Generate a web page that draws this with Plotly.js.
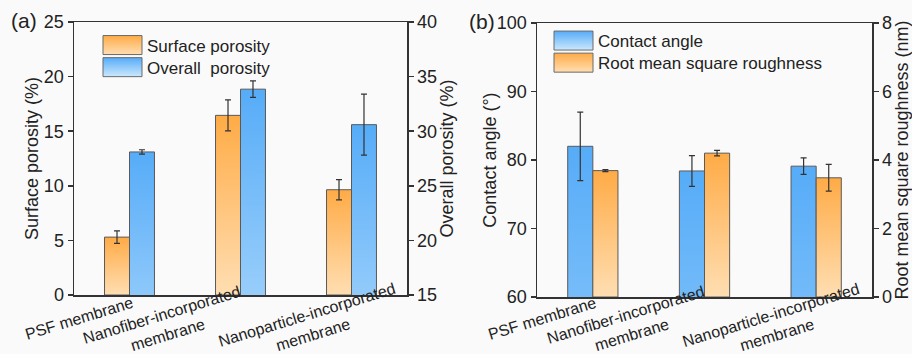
<!DOCTYPE html>
<html>
<head>
<meta charset="utf-8">
<script src="https://cdn.plot.ly/plotly-3.0.1.min.js"></script>
<style>html,body{margin:0;padding:0;background:#fafafa;}</style>
</head>
<body>
<div id="chart" style="width:912px;height:354px;"></div>
<script>
// ---- data ----
const categories = ['PSF membrane', 'Nanofiber-incorporated<br>membrane', 'Nanoparticle-incorporated<br>membrane'];
const surfacePorosity = [5.3, 16.45, 9.64];
const surfacePorosityErr = [0.58, 1.42, 0.92];
const overallPorosity = [28.1, 33.85, 30.6];
const overallPorosityErr = [0.2, 0.75, 2.8];
const contactAngle = [82.0, 78.4, 79.1];
const contactAngleErr = [5.0, 2.25, 1.2];
const roughness = [3.69, 4.2, 3.48];
const roughnessErr = [0.03, 0.08, 0.39];
const leftTicksY = [0, 5, 10, 15, 20, 25];

// ---- style ----
const FONT = 'Liberation Sans, Arial, Helvetica, sans-serif';
const ORANGE = 'rgb(255,176,80)';
const BLUE = 'rgb(90,174,248)';
const AX = '#333333';
const barLine = {color: '#5a5a5a', width: 1};
const errStyle = {type: 'data', color: '#333333', thickness: 1.2, width: 3};
const W = 0.225;

const data = [
  {type: 'bar', x: categories, y: surfacePorosity, xaxis: 'x', yaxis: 'y', name: 'Surface porosity',
   width: W, offset: -W, marker: {color: ORANGE, line: barLine},
   error_y: Object.assign({array: surfacePorosityErr}, errStyle), legend: 'legend'},
  {type: 'bar', x: categories, y: overallPorosity, xaxis: 'x', yaxis: 'y2', name: 'Overall\u00a0 porosity',
   width: W, offset: 0, marker: {color: BLUE, line: barLine},
   error_y: Object.assign({array: overallPorosityErr}, errStyle), legend: 'legend'},
  {type: 'bar', x: categories, y: contactAngle, xaxis: 'x2', yaxis: 'y3', name: 'Contact angle',
   width: W, offset: -W, marker: {color: BLUE, line: barLine},
   error_y: Object.assign({array: contactAngleErr}, errStyle), legend: 'legend2'},
  {type: 'bar', x: categories, y: roughness, xaxis: 'x2', yaxis: 'y4', name: 'Root mean square roughness',
   width: W, offset: 0, marker: {color: ORANGE, line: barLine},
   error_y: Object.assign({array: roughnessErr}, errStyle), legend: 'legend2'}
];

function yAx(extra) {
  return Object.assign({
    ticks: 'outside', ticklen: 5, tickwidth: 1.5, tickcolor: AX,
    showline: true, linecolor: AX, linewidth: 1.5,
    showgrid: false, zeroline: false,
    tickfont: {size: 18, color: '#222'},
  }, extra);
}
function xAx(extra) {
  return Object.assign({
    type: 'category', range: [-0.5, 2.5], showline: true, linecolor: AX, linewidth: 1.5,
    mirror: true, ticks: '', showticklabels: false, showgrid: false, zeroline: false
  }, extra);
}

const titleFont = {size: 18, color: '#222'};
const labelFont = {family: FONT, size: 16, color: '#222'};
const xShifts = [-51, -76, -42];
const xLabelY = [1 - 318 / 354, 1 - 325 / 354, 1 - 325 / 354];

const annotations = [];
['x', 'x2'].forEach(function (xr) {
  categories.forEach(function (c, i) {
    annotations.push({xref: xr, yref: 'paper', x: c, y: xLabelY[i], text: c, textangle: -17,
      xshift: xShifts[i], showarrow: false, align: 'center', xanchor: 'center', yanchor: 'middle',
      font: labelFont});
  });
});
annotations.push({xref: 'paper', yref: 'paper', x: 24 / 912, y: 1 - 20 / 354, text: '(a)', showarrow: false,
  xanchor: 'center', yanchor: 'middle', font: {family: FONT, size: 21, color: '#222'}});
annotations.push({xref: 'paper', yref: 'paper', x: 482 / 912, y: 1 - 22 / 354, text: '(b)', showarrow: false,
  xanchor: 'center', yanchor: 'middle', font: {family: FONT, size: 21, color: '#222'}});

const legendBase = {xanchor: 'left', yanchor: 'top', bgcolor: 'rgba(0,0,0,0)', borderwidth: 0,
  font: {family: FONT, size: 17, color: '#222'}, itemwidth: 39, tracegroupgap: 0};

const layout = {
  width: 912, height: 354,
  margin: {l: 0, r: 0, t: 0, b: 0},
  paper_bgcolor: '#fafafa', plot_bgcolor: '#fafafa',
  font: {family: FONT, color: '#222'},
  showlegend: true,
  xaxis: xAx({domain: [74 / 912, 407 / 912], anchor: 'y'}),
  yaxis: yAx({domain: [1 - 295 / 354, 1 - 22 / 354], range: [0, 25], tickvals: leftTicksY, anchor: 'x',
    title: {text: 'Surface porosity (%)', font: titleFont, standoff: 0}}),
  yaxis2: yAx({overlaying: 'y', side: 'right', range: [15, 40], dtick: 5, anchor: 'x',
    title: {text: 'Overall porosity (%)', font: titleFont, standoff: 4}}),
  xaxis2: xAx({domain: [537 / 912, 872 / 912], anchor: 'y3'}),
  yaxis3: yAx({domain: [1 - 297 / 354, 1 - 23 / 354], range: [60, 100], dtick: 10, anchor: 'x2',
    title: {text: 'Contact angle (°)', font: titleFont, standoff: 0}}),
  yaxis4: yAx({overlaying: 'y3', side: 'right', range: [0, 8], dtick: 2, anchor: 'x2',
    title: {text: 'Root mean square roughness (nm)', font: titleFont, standoff: 7}}),
  legend: Object.assign({x: 98 / 912, y: 1 - 27.5 / 354}, legendBase),
  legend2: Object.assign({x: 549 / 912, y: 1 - 23 / 354}, legendBase),
  annotations: annotations
};

Plotly.newPlot('chart', data, layout, {staticPlot: true, displayModeBar: false}).then(function (gd) {
  const ns = 'http://www.w3.org/2000/svg';
  const svg = gd.querySelector('svg.main-svg');
  let defs = svg.querySelector('defs');
  if (!defs) { defs = document.createElementNS(ns, 'defs'); svg.insertBefore(defs, svg.firstChild); }
  function addGrad(id, top, bottom) {
    const g = document.createElementNS(ns, 'linearGradient');
    g.setAttribute('id', id);
    g.setAttribute('x1', '0'); g.setAttribute('y1', '0'); g.setAttribute('x2', '0'); g.setAttribute('y2', '1');
    [[0, top], [1, bottom]].forEach(function (s) {
      const st = document.createElementNS(ns, 'stop');
      st.setAttribute('offset', s[0]);
      st.setAttribute('stop-color', s[1]);
      g.appendChild(st);
    });
    defs.appendChild(g);
  }
  addGrad('gOrange', '#FFAB46', '#FFDEB2');
  addGrad('gBlue', '#56ACF8', '#CCE8FD');
  function gradFor(p) {
    const f = (p.style.fill || p.getAttribute('fill') || '').replace(/\s/g, '');
    return f.indexOf('rgb(255') === 0 ? 'url(#gOrange)' : 'url(#gBlue)';
  }
  gd.querySelectorAll('g.trace.bars path').forEach(function (p) {
    p.style.fill = gradFor(p);
  });
  gd.querySelectorAll('.infolayer .traces .legendpoints path').forEach(function (p) {
    const g = gradFor(p);
    p.setAttribute('d', 'M19.5,9.5H-19.5V-9.5H19.5Z');
    p.style.fill = g;
    p.style.stroke = '#6a6a6a';
    p.style.strokeWidth = '1px';
  });
  // tighten legend row spacing
  gd.querySelectorAll('.infolayer .scrollbox').forEach(function (box) {
    const items = box.querySelectorAll('g.traces');
    items.forEach(function (t, i) {
      const tr = t.getAttribute('transform') || '';
      const m = tr.match(/translate\(\s*([-\d.e]+)[ ,]+([-\d.e]+)\s*\)/);
      if (m) {
        t.setAttribute('transform', 'translate(' + m[1] + ',' + (parseFloat(m[2]) - 3 * i) + ')');
      }
    });
  });
  // nudge the contact-angle title slightly toward its tick labels
  const t3 = gd.querySelector('.g-y3title');
  if (t3) t3.setAttribute('transform', 'translate(5,0)');
});
</script>
</body>
</html>
